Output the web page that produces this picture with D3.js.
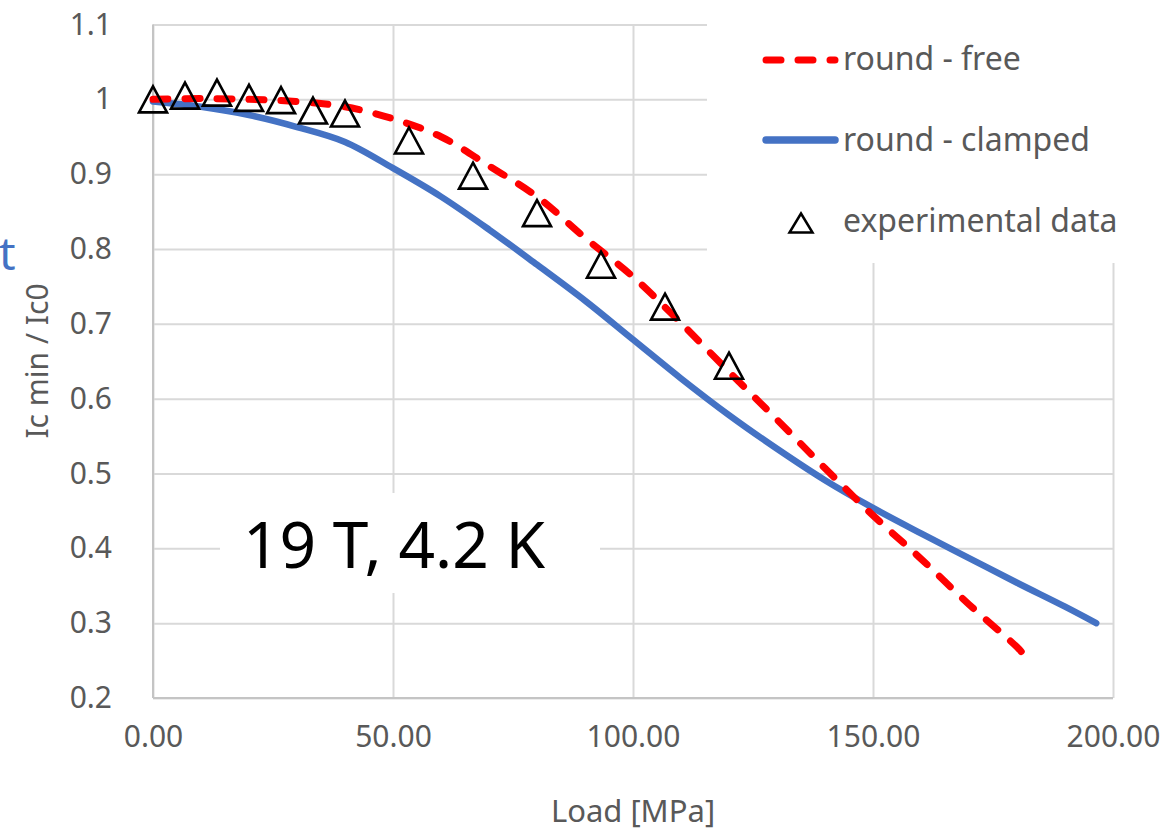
<!DOCTYPE html>
<html>
<head>
<meta charset="utf-8">
<script src="https://cdn.jsdelivr.net/npm/d3@7"></script>
<style>
  body { margin: 0; background: #fff; }
  svg { display: block; font-family: "Noto Sans", sans-serif; }
</style>
</head>
<body>
<div id="app"></div>
<script>
// experimental points
const expLoad = [0, 6.67, 13.33, 20, 26.67, 33.33, 40, 53.33, 66.67, 80, 93.33, 106.67, 120];
const expIc = [1.0, 1.005, 1.009, 1.002, 0.999, 0.985, 0.981, 0.945, 0.898, 0.848, 0.779, 0.723, 0.644];

// round - free (model)
const freeLoad = [0, 10, 20, 30, 40, 50, 60, 70, 80, 90, 100, 110, 120, 130, 140, 150, 160, 170, 180, 182];
const freeIc = [1.0, 1.001, 1.0, 0.997, 0.99, 0.974, 0.95, 0.911, 0.87, 0.815, 0.763, 0.701, 0.636, 0.572, 0.507, 0.444, 0.386, 0.325, 0.268, 0.254];

// round - clamped (model)
const clampLoad = [0, 10, 20, 30, 40, 50, 60, 70, 80, 90, 100, 110, 120, 130, 140, 150, 160, 170, 180, 190, 196.5];
const clampIc = [0.997, 0.99, 0.979, 0.963, 0.943, 0.908, 0.87, 0.826, 0.779, 0.731, 0.679, 0.627, 0.578, 0.533, 0.491, 0.454, 0.42, 0.387, 0.354, 0.322, 0.3];

const xTicks = [0, 50, 100, 150, 200];
const yTicks = [0.2, 0.3, 0.4, 0.5, 0.6, 0.7, 0.8, 0.9, 1.0, 1.1];
const yTickLabels = ["0.2", "0.3", "0.4", "0.5", "0.6", "0.7", "0.8", "0.9", "1", "1.1"];

const legendItems = ["round - free", "round - clamped", "experimental data"];

const w = 1169;
const h = 830;
const plotL = 153, plotR = 1113, plotT = 24.5, plotB = 698;
const blue = "#4472C4", red = "#FF0000", grey = "#595959";

const svg = d3.select("#app").append("svg").attr("width", w).attr("height", h);

const x = d3.scaleLinear().domain([0, 200]).range([plotL, plotR]);
const y = d3.scaleLinear().domain([0.2, 1.1]).range([plotB, plotT]);

//grid + y labels
const yAxis = svg.append("g")
  .attr("transform", `translate(${plotL},0)`)
  .call(d3.axisLeft(y).tickValues(yTicks).tickSize(-(plotR - plotL)).tickPadding(41)
    .tickFormat((d, i) => yTickLabels[i]));
yAxis.select(".domain").remove();
yAxis.selectAll("line").attr("stroke", "#d9d9d9").attr("stroke-width", 2);
yAxis.selectAll("text").attr("fill", grey).style("font-size", "30px").attr("font-family", "Noto Sans");

const xAxis = svg.append("g")
  .attr("transform", `translate(0,${plotB})`)
  .call(d3.axisBottom(x).tickValues(xTicks).tickSize(-(plotB - plotT)).tickPadding(28)
    .tickFormat(d3.format(".2f")));
xAxis.select(".domain").remove();
xAxis.selectAll("line").attr("stroke", "#d9d9d9").attr("stroke-width", 2);
xAxis.selectAll("text").attr("fill", grey).style("font-size", "30px").attr("font-family", "Noto Sans");

//legend background + text box background hide the grid
svg.append("rect").attr("x", 707).attr("y", 0).attr("width", w - 707).attr("height", 263).attr("fill", "#fff");
svg.append("rect").attr("x", 220).attr("y", 493).attr("width", 380).attr("height", 100).attr("fill", "#fff");

//axis lines
svg.append("line").attr("x1", plotL).attr("x2", plotL).attr("y1", plotT).attr("y2", plotB)
  .attr("stroke", "#c4c4c4").attr("stroke-width", 2);
svg.append("line").attr("x1", plotL).attr("x2", plotR).attr("y1", plotB).attr("y2", plotB)
  .attr("stroke", "#c4c4c4").attr("stroke-width", 2);

//axis titles
svg.append("text").attr("x", x(100)).attr("y", 822).attr("text-anchor", "middle")
  .attr("fill", grey).style("font-size", "31px").text("Load [MPa]");
svg.append("text").attr("transform", "translate(48,361) rotate(-90)").attr("text-anchor", "middle")
  .attr("fill", grey).style("font-size", "30px").text("Ic min / Ic0");

//left over text at the left edge
svg.append("text").attr("x", -1).attr("y", 270)
  .attr("fill", blue).style("font-size", "46px").text("t");

svg.append("text").attr("x", 394).attr("y", 568).attr("text-anchor", "middle")
  .attr("fill", "#000").style("font-size", "64px").text("19 T, 4.2 K");

//model curves
const line = d3.line().x(d => x(d[0])).y(d => y(d[1])).curve(d3.curveCatmullRom.alpha(0.5));

svg.append("path")
  .datum(d3.zip(clampLoad, clampIc))
  .attr("d", line)
  .attr("fill", "none").attr("stroke", blue).attr("stroke-width", 6.5).attr("stroke-linecap", "round");

svg.append("path")
  .datum(d3.zip(freeLoad, freeIc))
  .attr("d", line)
  .attr("fill", "none").attr("stroke", red).attr("stroke-width", 7)
  .attr("stroke-dasharray", "15,17").attr("stroke-linecap", "round");

//experimental triangles
const tri = (cx, cy, tw, th) => `M${cx},${cy - th / 2}L${cx + tw / 2},${cy + th / 2}L${cx - tw / 2},${cy + th / 2}Z`;

svg.selectAll(".exp")
  .data(d3.zip(expLoad, expIc))
  .enter()
  .append("path")
  .attr("class", "exp")
  .attr("d", d => tri(x(d[0]), y(d[1]), 28, 26))
  .attr("fill", "none").attr("stroke", "#000").attr("stroke-width", 2.6).attr("stroke-linejoin", "miter");

//legend
const lg = svg.append("g");
lg.append("line").attr("x1", 766).attr("x2", 835).attr("y1", 60).attr("y2", 60)
  .attr("stroke", red).attr("stroke-width", 7).attr("stroke-dasharray", "15,17").attr("stroke-linecap", "round");
lg.append("line").attr("x1", 766).attr("x2", 835).attr("y1", 140).attr("y2", 140)
  .attr("stroke", blue).attr("stroke-width", 7.5).attr("stroke-linecap", "round");
lg.append("path").attr("d", tri(801, 223, 23, 19))
  .attr("fill", "none").attr("stroke", "#000").attr("stroke-width", 2.5);

lg.selectAll("text")
  .data(legendItems)
  .enter()
  .append("text")
  .attr("x", 843)
  .attr("y", (d, i) => 70 + i * 81)
  .attr("fill", grey)
  .style("font-size", "32px")
  .text(d => d);
</script>
</body>
</html>
